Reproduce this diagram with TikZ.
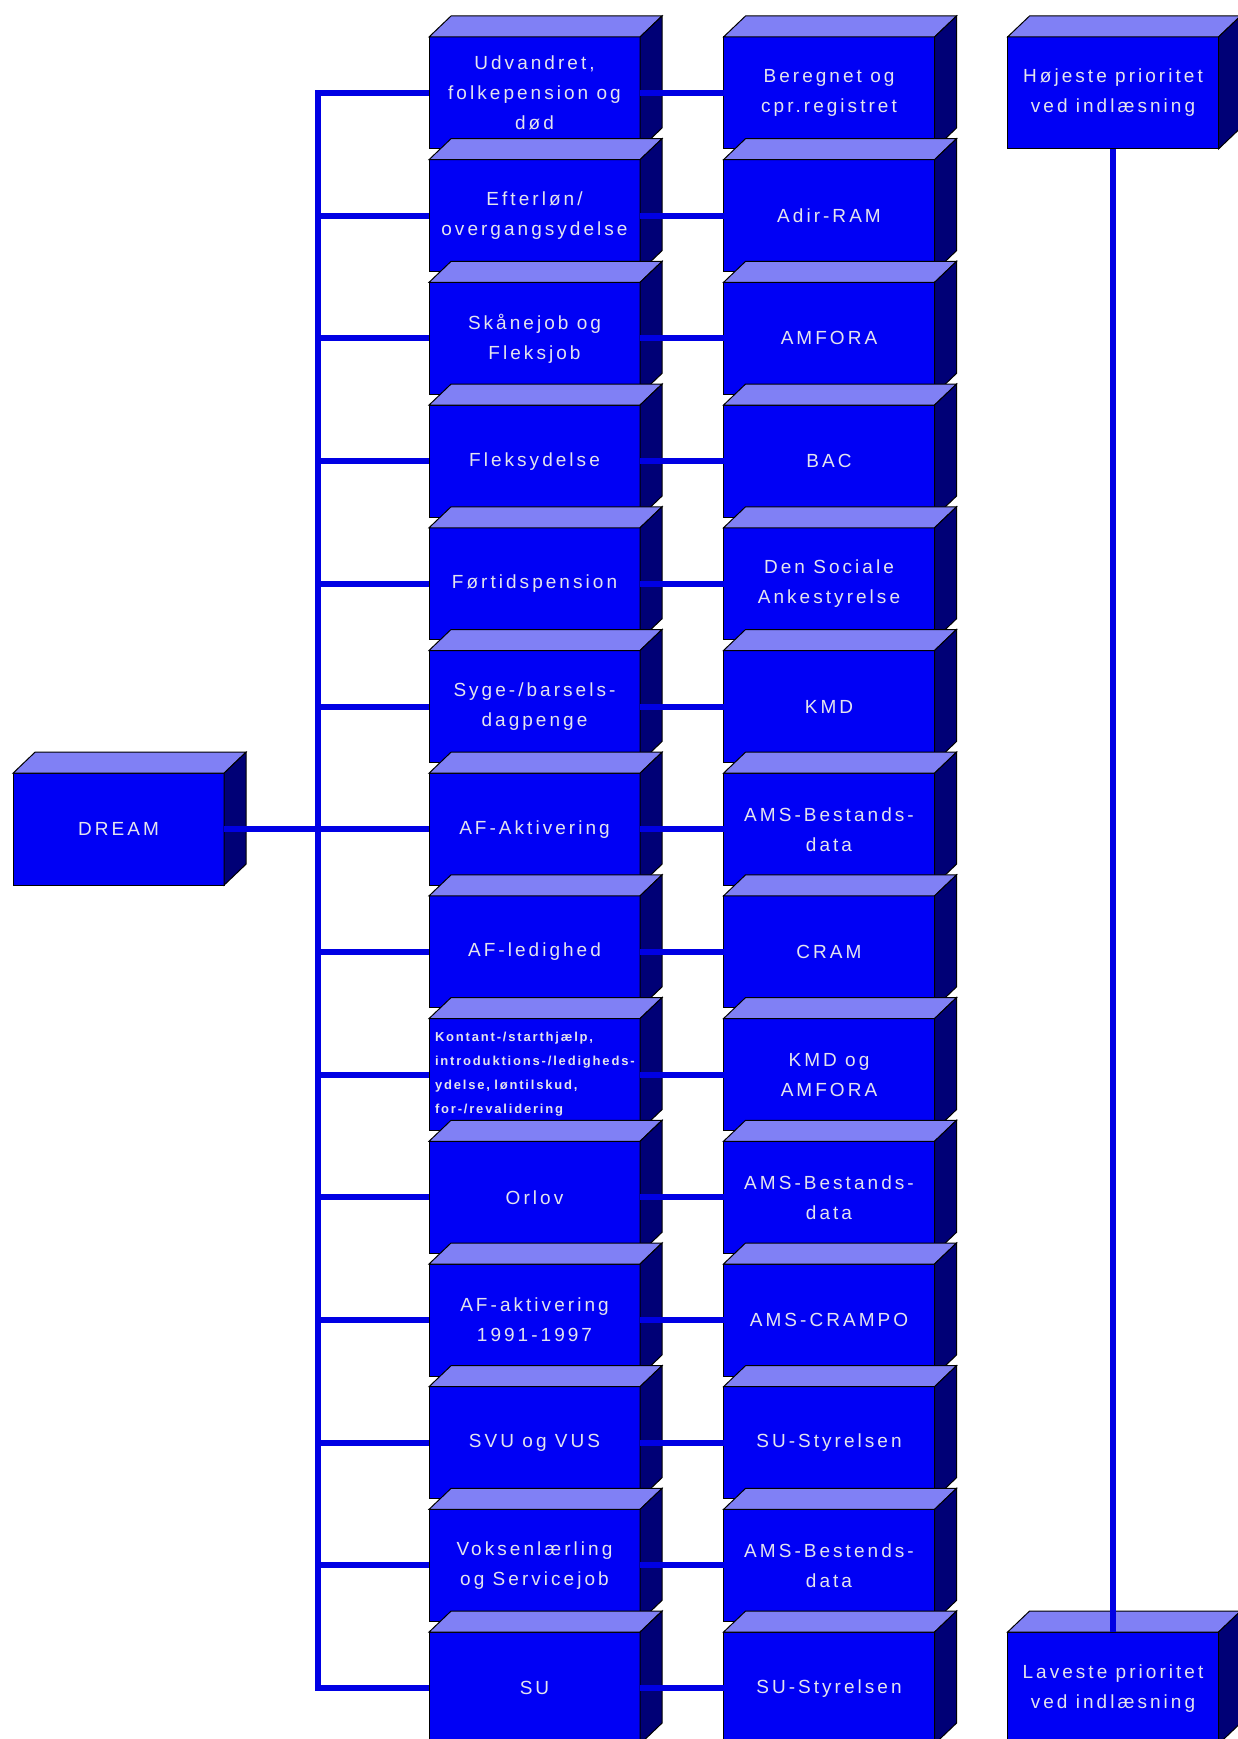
\documentclass[tikz,border=0pt]{standalone}
\usepackage{fontspec}
\setmainfont{Liberation Sans}
\newfontfamily\blokfont[LetterSpace=16]{Liberation Sans}
\newfontfamily\smalfont[LetterSpace=14]{Liberation Sans Bold}
\usetikzlibrary{calc}
\definecolor{frontblue}{RGB}{0,0,245}
\definecolor{topblue}{RGB}{128,128,245}
\definecolor{sideblue}{RGB}{0,0,118}
\definecolor{wireblue}{RGB}{0,0,228}
\definecolor{textgray}{RGB}{228,228,238}
\tikzset{
	blok/.style={draw=black, line width=1pt, fill=frontblue, minimum width=211pt, minimum height=112pt, inner sep=0pt, outer sep=0pt, text=textgray, align=center, font=\blokfont\fontsize{19}{30}\selectfont},
	smalblok/.style={blok, align=left, text width=199pt, font=\smalfont\fontsize{13}{24}\selectfont},
	wire/.style={wireblue, line width=6pt},
}
\def\blokfaces(#1){\draw[line width=1pt, fill=topblue] (#1.north west) -- ++(22,-21) -- ($(#1.north east)+(22,-21)$) -- (#1.north east) -- cycle;
	\draw[line width=1pt, fill=sideblue] (#1.north east) -- ++(22,-21) -- ($(#1.south east)+(22,-21)$) -- (#1.south east) -- cycle;}

\begin{document}
\begin{tikzpicture}[x=1pt, y=-1pt]
			\useasboundingbox (0,0) rectangle (1238,1739);
			%%%%% START %%%%%
			
			\node[blok] (dream) at (118.5, 829.2) {DREAM};
			\blokfaces(dream);
			
			\node[blok] (udv) at (534.5, 93) {Udvandret,\\folkepension og\\død};
			\blokfaces(udv);
			\node[blok] (ber) at (829, 93) {Beregnet og\\cpr.registret};
			\blokfaces(ber);
			
			\node[blok] (eft) at (534.5, 215.7) {Efterløn/\\overgangsydelse};
			\blokfaces(eft);
			\node[blok] (adir) at (829, 215.7) {Adir-RAM};
			\blokfaces(adir);
			
			\node[blok] (skaa) at (534.5, 338.4) {Skånejob og\\Fleksjob};
			\blokfaces(skaa);
			\node[blok] (amfora) at (829, 338.4) {AMFORA};
			\blokfaces(amfora);
			
			\node[blok] (fleks) at (534.5, 461.1) {Fleksydelse};
			\blokfaces(fleks);
			\node[blok] (bac) at (829, 461.1) {BAC};
			\blokfaces(bac);
			
			\node[blok] (foer) at (534.5, 583.8) {Førtidspension};
			\blokfaces(foer);
			\node[blok] (anke) at (829, 583.8) {Den Sociale\\Ankestyrelse};
			\blokfaces(anke);
			
			\node[blok] (syge) at (534.5, 706.5) {Syge-/barsels-\\dagpenge};
			\blokfaces(syge);
			\node[blok] (kmd) at (829, 706.5) {KMD};
			\blokfaces(kmd);
			
			\node[blok] (afakt) at (534.5, 829.2) {AF-Aktivering};
			\blokfaces(afakt);
			\node[blok] (amsbest) at (829, 829.2) {AMS-Bestands-\\data};
			\blokfaces(amsbest);
			
			\node[blok] (afled) at (534.5, 951.9) {AF-ledighed};
			\blokfaces(afled);
			\node[blok] (cram) at (829, 951.9) {CRAM};
			\blokfaces(cram);
			
			\node[smalblok] (kont) at (534.5, 1074.6) {Kontant-/starthjælp,\\introduktions-/ledigheds-\\ydelse, løntilskud,\\for-/revalidering};
			\blokfaces(kont);
			\node[blok] (kmdam) at (829, 1074.6) {KMD og\\AMFORA};
			\blokfaces(kmdam);
			
			\node[blok] (orlov) at (534.5, 1197.3) {Orlov};
			\blokfaces(orlov);
			\node[blok] (amsbestb) at (829, 1197.3) {AMS-Bestands-\\data};
			\blokfaces(amsbestb);
			
			\node[blok] (afaktgl) at (534.5, 1320) {AF-aktivering\\1991-1997};
			\blokfaces(afaktgl);
			\node[blok] (crampo) at (829, 1320) {AMS-CRAMPO};
			\blokfaces(crampo);
			
			\node[blok] (svu) at (534.5, 1442.7) {SVU og VUS};
			\blokfaces(svu);
			\node[blok] (sust) at (829, 1442.7) {SU-Styrelsen};
			\blokfaces(sust);
			
			\node[blok] (voks) at (534.5, 1565.4) {Voksenlærling\\og Servicejob};
			\blokfaces(voks);
			\node[blok] (amsbestc) at (829, 1565.4) {AMS-Bestends-\\data};
			\blokfaces(amsbestc);
			
			\node[blok] (su) at (534.5, 1688.1) {SU};
			\blokfaces(su);
			\node[blok] (sustb) at (829, 1688.1) {SU-Styrelsen};
			\blokfaces(sustb);
			
			% prioritet
			\node[blok] (hoej) at (1113, 93) {Højeste prioritet\\ved indlæsning};
			\blokfaces(hoej);
			\node[blok] (lav) at (1113, 1688.1) {Laveste prioritet\\ved indlæsning};
			\blokfaces(lav);
			
			% ledninger
			\coordinate (bus) at (318, 829.2);
			\draw[wire] (dream.east) -- (bus);
			\draw[wire] (udv.west) -| (bus) |- (su.west);
			\draw[wire] (bus |- eft.west) -- (eft.west);
			\draw[wire] (bus |- skaa.west) -- (skaa.west);
			\draw[wire] (bus |- fleks.west) -- (fleks.west);
			\draw[wire] (bus |- foer.west) -- (foer.west);
			\draw[wire] (bus |- syge.west) -- (syge.west);
			\draw[wire] (bus) -- (afakt.west);
			\draw[wire] (bus |- afled.west) -- (afled.west);
			\draw[wire] (bus |- kont.west) -- (kont.west);
			\draw[wire] (bus |- orlov.west) -- (orlov.west);
			\draw[wire] (bus |- afaktgl.west) -- (afaktgl.west);
			\draw[wire] (bus |- svu.west) -- (svu.west);
			\draw[wire] (bus |- voks.west) -- (voks.west);
			
			\draw[wire] (udv.east) -- (ber.west);
			\draw[wire] (eft.east) -- (adir.west);
			\draw[wire] (skaa.east) -- (amfora.west);
			\draw[wire] (fleks.east) -- (bac.west);
			\draw[wire] (foer.east) -- (anke.west);
			\draw[wire] (syge.east) -- (kmd.west);
			\draw[wire] (afakt.east) -- (amsbest.west);
			\draw[wire] (afled.east) -- (cram.west);
			\draw[wire] (kont.east) -- (kmdam.west);
			\draw[wire] (orlov.east) -- (amsbestb.west);
			\draw[wire] (afaktgl.east) -- (crampo.west);
			\draw[wire] (svu.east) -- (sust.west);
			\draw[wire] (voks.east) -- (amsbestc.west);
			\draw[wire] (su.east) -- (sustb.west);
			
			\draw[wire] (hoej.south) -- (lav.north);
			
			%%%%% END %%%%%
\end{tikzpicture}
\end{document}
